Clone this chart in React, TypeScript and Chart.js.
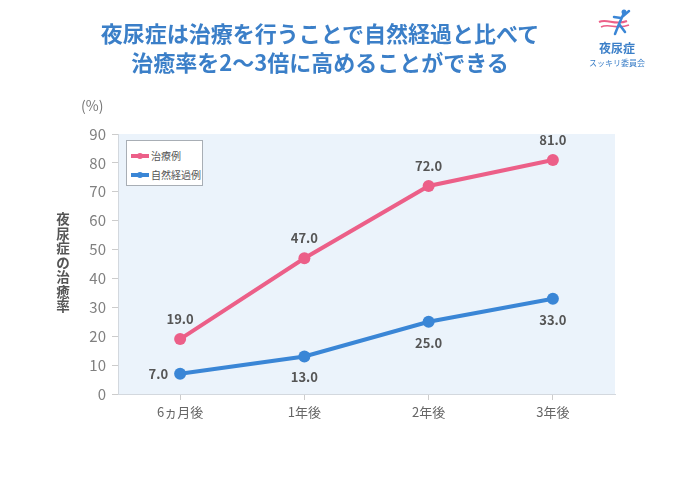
import React, { useEffect, useRef } from "react";
import { Chart, registerables } from "chart.js";

Chart.register(...registerables);

const categories = ["6ヵ月後", "1年後", "2年後", "3年後"];
const treatedValues = [19.0, 47.0, 72.0, 81.0];
const naturalValues = [7.0, 13.0, 25.0, 33.0];
const seriesNames = ["治療例", "自然経過例"];
const yTicks = [0, 10, 20, 30, 40, 50, 60, 70, 80, 90];
const titleLines = ["夜尿症は治療を行うことで自然経過と比べて", "治癒率を2〜3倍に高めることができる"];
const yTitle = "夜尿症の治癒率";

const PINK = "#ec5f88";
const BLUE = "#3a86d6";
const FONT = "'Noto Sans CJK JP', 'Noto Sans', sans-serif";

const bgPlugin = {
  id: "areaBg",
  beforeDraw(chart: any) {
    const { ctx, chartArea } = chart;
    ctx.save();
    ctx.fillStyle = "#ebf3fb";
    ctx.fillRect(chartArea.left, chartArea.top, chartArea.right - chartArea.left, chartArea.bottom - chartArea.top);
    ctx.restore();
  },
};

const labelPlugin = {
  id: "valueLabels",
  afterDatasetsDraw(chart: any) {
    const { ctx } = chart;
    ctx.save();
    ctx.font = `bold 13px ${FONT}`;
    ctx.fillStyle = "#555";
    ctx.textBaseline = "middle";
    chart.data.datasets.forEach((ds: any, di: number) => {
      const meta = chart.getDatasetMeta(di);
      meta.data.forEach((pt: any, i: number) => {
        const txt = Number(ds.data[i]).toFixed(1);
        let x = pt.x;
        let y = pt.y;
        ctx.textAlign = "center";
        if (di === 0) {
          y = pt.y - 20;
        } else if (i === 0) {
          ctx.textAlign = "right";
          x = pt.x - 12;
        } else {
          y = pt.y + 21;
        }
        ctx.fillText(txt, x, y);
      });
    });
    ctx.restore();
  },
};

export default function App() {
  const ref = useRef<HTMLCanvasElement>(null);
  useEffect(() => {
    document.body.style.margin = "0";
    const chart = new Chart(ref.current!, {
      type: "line",
      data: {
        labels: categories,
        datasets: [
          {
            label: seriesNames[0],
            data: treatedValues,
            borderColor: PINK,
            backgroundColor: PINK,
            borderWidth: 4,
            pointRadius: 6,
            pointBorderWidth: 0,
            pointBackgroundColor: PINK,
            pointBorderColor: PINK,
          },
          {
            label: seriesNames[1],
            data: naturalValues,
            borderColor: BLUE,
            backgroundColor: BLUE,
            borderWidth: 4,
            pointRadius: 6,
            pointBorderWidth: 0,
            pointBackgroundColor: BLUE,
            pointBorderColor: BLUE,
          },
        ],
      },
      options: {
        responsive: false,
        animation: false,
        layout: { padding: { left: 68, right: 65, top: 134, bottom: 47 } },
        plugins: { legend: { display: false }, tooltip: { enabled: false } },
        scales: {
          x: {
            offset: true,
            grid: { drawOnChartArea: false, color: "#ccc", tickLength: 6, offset: false },
            border: { color: "#d3d8de" },
            ticks: { color: "#666", font: { family: FONT, size: 13 }, padding: 4 },
            afterFit(scale: any) {
              scale.height = 40;
            },
          },
          y: {
            min: 0,
            max: 90,
            afterBuildTicks(scale: any) {
              scale.ticks = yTicks.map((v) => ({ value: v }));
            },
            grid: { drawOnChartArea: false, color: "#ccc", tickLength: 6 },
            border: { color: "#d3d8de" },
            ticks: { color: "#808080", font: { family: FONT, size: 15 }, padding: 6 },
            afterFit(scale: any) {
              scale.width = 50;
            },
          },
        },
      },
      plugins: [bgPlugin, labelPlugin],
    });
    return () => chart.destroy();
  }, []);

  return (
    <div style={{ position: "relative", width: 680, height: 481, background: "#fff", fontFamily: FONT, overflow: "hidden" }}>
      <canvas ref={ref} width={680} height={481} style={{ position: "absolute", left: 0, top: 0 }} />
      <div style={{ position: "absolute", left: 0, width: 640, top: 18, textAlign: "center", color: "#3b7fc8", fontWeight: 700, fontSize: 22, lineHeight: "29px" }}>
        {titleLines.map((t) => (
          <div key={t}>{t}</div>
        ))}
      </div>
      <svg width="40" height="30" style={{ position: "absolute", left: 597, top: 8 }} viewBox="0 0 40 30">
        <path d="M2 14 C10 10 18 18 30 13" stroke="#ec5f88" strokeWidth="2" fill="none" />
        <path d="M4 19 C12 15 20 22 32 17" stroke="#ec5f88" strokeWidth="1.5" fill="none" />
        <circle cx="27" cy="4" r="2.5" fill="#3a86d6" />
        <path d="M26 7 L22 16 L18 26 M22 16 L28 24 M25 9 L32 3 M24 10 L17 9" stroke="#3a86d6" strokeWidth="2.5" fill="none" strokeLinecap="round" />
      </svg>
      <div style={{ position: "absolute", left: 592, width: 50, top: 39, textAlign: "center", color: "#3b7fc8", fontWeight: 700, fontSize: 12 }}>夜尿症</div>
      <div style={{ position: "absolute", left: 582, width: 70, top: 57, textAlign: "center", color: "#3b7fc8", fontSize: 8 }}>スッキリ委員会</div>
      <div style={{ position: "absolute", left: 81, top: 95, color: "#777", fontSize: 14 }}>(%)</div>
      <div style={{ position: "absolute", left: 55, top: 211, width: 16, color: "#555", fontWeight: 700, fontSize: 13.5, lineHeight: "14.5px", textAlign: "center" }}>
        {yTitle.split("").map((c, i) => (
          <div key={i}>{c}</div>
        ))}
      </div>
      <div style={{ position: "absolute", left: 126, top: 140, width: 77, height: 46, background: "#fff", border: "1px solid #a8aeb5", boxSizing: "border-box", fontSize: 10, color: "#555" }}>
        {seriesNames.map((n, i) => (
          <div key={n} style={{ position: "absolute", left: 4, top: i === 0 ? 7 : 26, display: "flex", alignItems: "center" }}>
            <span style={{ position: "relative", display: "inline-block", width: 18, height: 4, background: i === 0 ? PINK : BLUE, marginRight: 2 }}>
              <span style={{ position: "absolute", left: 6, top: -1, width: 6, height: 6, borderRadius: 3, background: i === 0 ? PINK : BLUE }} />
            </span>
            {n}
          </div>
        ))}
      </div>
    </div>
  );
}
